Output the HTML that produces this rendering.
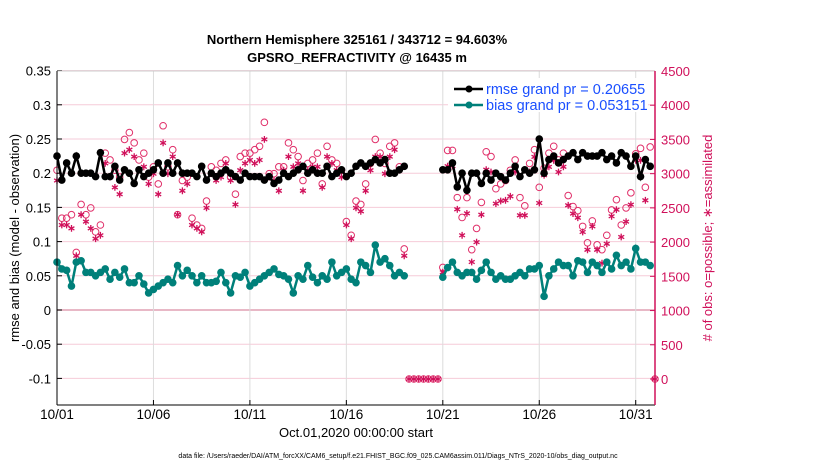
<!DOCTYPE html>
<html><head><meta charset="utf-8"><style>
body{margin:0;background:#fff;font-family:"Liberation Sans",sans-serif}
svg{display:block}
</style></head><body>
<svg id="chart" width="830" height="470" viewBox="0 0 830 470" xmlns="http://www.w3.org/2000/svg" font-family="Liberation Sans, sans-serif">
<text x="357" y="44" text-anchor="middle" font-size="13" font-weight="bold">Northern Hemisphere 325161 / 343712 = 94.603%</text>
<text x="357" y="62" text-anchor="middle" font-size="13" font-weight="bold">GPSRO_REFRACTIVITY @ 16435 m</text>
<g id="grid"></g><g id="marks"></g><g id="axes"></g>
<rect x="448" y="78" width="200" height="34" fill="#fff"/>
<text transform="translate(19,238) rotate(-90)" text-anchor="middle" font-size="13">rmse and bias (model - observation)</text>
<text transform="translate(712,238) rotate(-90)" text-anchor="middle" font-size="13" fill="#d0105a"># of obs: o=possible; ∗=assimilated</text>
<text x="356" y="437" text-anchor="middle" font-size="13">Oct.01,2020 00:00:00 start</text>
<text x="398" y="458" text-anchor="middle" font-size="7">data file: /Users/raeder/DAI/ATM_forcXX/CAM6_setup/f.e21.FHIST_BGC.f09_025.CAM6assim.011/Diags_NTrS_2020-10/obs_diag_output.nc</text>
<g>
<line x1="454" y1="89" x2="483" y2="89" stroke="#000" stroke-width="2.5"/><circle cx="469" cy="89" r="3.5" fill="#000"/>
<text x="486" y="94" font-size="14.5" fill="#1a4fff">rmse grand pr = 0.20655</text>
<line x1="454" y1="105" x2="483" y2="105" stroke="#00807a" stroke-width="2.5"/><circle cx="469" cy="105" r="3.5" fill="#00807a"/>
<text x="486" y="110" font-size="14.5" fill="#1a4fff">bias grand pr = 0.053151</text>
</g>
</svg>
<script>
const leftTicks=[0.35,0.3,0.25,0.2,0.15,0.1,0.05,0,-0.05,-0.1];
const leftTickLabels=["0.35","0.3","0.25","0.2","0.15","0.1","0.05","0","-0.05","-0.1"];
const rightTicks=[4500,4000,3500,3000,2500,2000,1500,1000,500,0];
const xTicks=[0,5,10,15,20,25,30];
const xTickLabels=["10/01","10/06","10/11","10/16","10/21","10/26","10/31"];
const rmse=[0.225,0.19,0.215,0.2,0.225,0.2,0.2,0.2,0.195,0.23,
0.195,0.195,0.21,0.19,0.205,0.2,0.185,0.205,0.195,0.2,
0.205,0.215,0.2,0.215,0.2,0.215,0.2,0.2,0.2,0.195,
0.21,0.19,0.2,0.195,0.2,0.205,0.2,0.195,0.19,0.2,
0.195,0.195,0.195,0.19,0.195,0.185,0.19,0.2,
0.195,0.2,0.205,0.21,0.2,0.205,0.2,0.2,0.21,0.195,
0.2,0.205,0.195,0.2,0.21,0.215,0.21,0.215,0.22,0.215,
0.22,0.2,0.2,0.205,0.21,
null,null,null,null,null,null,null,
0.205,0.205,0.215,0.18,0.2,0.175,0.2,0.2,0.185,0.2,0.19,0.2,0.195,
0.19,0.2,0.21,0.195,0.205,0.2,0.205,0.25,0.2,0.22,0.225,0.215,0.22,
0.225,0.23,0.22,0.23,0.225,0.225,0.225,0.23,0.22,0.225,0.215,0.23,0.225,
0.21,0.225,0.195,0.22,0.21,null];
const bias=[0.07,0.06,0.058,0.035,0.07,0.072,0.055,0.055,0.05,0.055,
0.06,0.045,0.055,0.048,0.06,0.04,0.04,0.05,0.038,0.025,
0.03,0.035,0.04,0.045,0.04,0.065,0.05,0.058,0.05,0.04,
0.05,0.04,0.04,0.042,0.055,0.04,0.025,0.05,0.048,0.055,
0.035,0.04,0.045,0.05,0.055,0.06,0.052,0.05,
0.045,0.025,0.05,0.045,0.065,0.048,0.04,0.05,0.045,0.07,
0.05,0.055,0.06,0.045,0.04,0.07,0.065,0.055,0.095,0.07,
0.075,0.065,0.05,0.055,0.05,
null,null,null,null,null,null,null,
0.048,0.062,0.07,0.055,0.05,0.055,0.055,0.045,0.058,0.07,0.055,0.045,0.05,
0.045,0.045,0.05,0.055,0.05,0.06,0.06,0.065,0.02,0.05,0.06,0.07,0.065,
0.065,0.05,0.072,0.07,0.055,0.07,0.065,0.055,0.07,0.06,0.08,0.065,0.07,
0.06,0.09,0.07,0.07,0.065,null];
const possible=[3050,2350,2350,2400,1850,2550,2400,2500,2150,2250,
3300,3200,3050,2950,3500,3600,3450,3200,3300,2950,
3100,2850,3700,3100,3350,2400,2900,2950,2350,2250,
2200,2600,3100,3050,3150,3200,2950,2700,3250,3300,
3300,3350,3400,3750,3000,3000,3100,3100,
3450,3350,3250,2900,3150,3200,3300,2850,3400,3200,
3150,3050,2300,2100,2600,2550,2850,3150,3500,3300,
3150,3400,3450,3100,1900,
0,0,0,0,0,0,0,
1630,3340,3340,2650,2360,2650,1890,2200,2580,3320,3250,2780,2850,
2900,3050,3200,2650,2530,3150,3350,2800,3080,3300,3400,3200,3300,
2680,2520,2460,2230,1990,2310,1960,1890,2100,2470,2620,2250,2500,
2720,3290,3370,2800,3390,0];
const assimilated=[2900,2250,2250,2200,1800,2400,2300,2200,2050,2100,
3150,2950,2800,2700,3300,3350,3250,3050,3100,2850,
3000,2700,3450,3000,3250,2400,2750,2850,2250,2200,
2150,2500,3000,2900,2950,3150,2900,2550,3050,3150,
3200,3150,3200,3500,2950,2900,2750,3050,
3250,3100,3150,2750,3050,3100,3100,2800,3250,3150,
3050,2950,2250,2050,2500,2450,2750,3050,3250,3250,
3000,3250,3350,3050,1800,
0,0,0,0,0,0,0,
1560,3110,3110,2480,2100,2420,1710,2000,2400,3060,3025,2562,2600,
2611,2670,3025,2391,2391,3025,3245,2572,2977,3099,3196,3025,3100,
2538,2416,2357,2147,1888,2230,1888,1693,1976,2377,2474,2074,2300,
2548,3196,3196,2611,3110,0];
const stepDays=0.25;
const X0=57,X1=655,Y0=71,Y1=405;
const xs=d=>X0+d*(X1-X0)/31;
const yl=v=>310-v*684;
const yr=c=>379-c*(308/4500);
const NS='http://www.w3.org/2000/svg';
function mk(tag,at,parent){const e=document.createElementNS(NS,tag);for(const k in at)e.setAttribute(k,at[k]);parent.appendChild(e);return e;}
const grid=document.getElementById('grid'),marks=document.getElementById('marks'),axes=document.getElementById('axes');
leftTicks.forEach((t,i)=>{
 const g=mk('line',{x1:X0,x2:X1,y1:yl(t),y2:yl(t),stroke:t===0?'#e0a0b4':'#f6cbd8','stroke-width':t===0?1.5:1},grid);
 
 
 const tk=mk('line',{x1:X0,x2:X0+5,y1:yl(t),y2:yl(t),stroke:'#000'},axes);
 
 
 const tx=mk('text',{x:X0-6,y:yl(t)+5,'text-anchor':'end','font-size':13},axes);
 tx.textContent=leftTickLabels[i];
 
 
});
rightTicks.forEach(t=>{
 const tk=mk('line',{x1:X1-5,x2:X1,y1:yr(t),y2:yr(t),stroke:'#d0105a'},axes);
 
 
 const tx=mk('text',{x:X1+6,y:yr(t)+5,'font-size':13,fill:'#d0105a'},axes);
 tx.textContent=String(t);
 
 
});
xTicks.forEach((d,i)=>{
 const g=mk('line',{x1:xs(d),x2:xs(d),y1:Y0,y2:Y1,stroke:'#dcdcdc'},grid);
 
 
 const tk=mk('line',{x1:xs(d),x2:xs(d),y1:Y1-5,y2:Y1,stroke:'#000'},axes);
 
 
 const tx=mk('text',{x:xs(d),y:Y1+14,'text-anchor':'middle','font-size':13.5},axes);
 tx.textContent=xTickLabels[i];
 
 
});
const topBorder=mk('line',{x1:X0,x2:X1,y1:Y0,y2:Y0,stroke:'#ccc'},axes);


const la=mk('line',{x1:X0,x2:X0,y1:Y0,y2:Y1,stroke:'#000'},axes);


const ba=mk('line',{x1:X0,x2:X1,y1:Y1,y2:Y1,stroke:'#000'},axes);


const ra=mk('line',{x1:X1,x2:X1,y1:Y0,y2:Y1,stroke:'#d0105a','stroke-width':1.5},axes);


possible.forEach((c,i)=>{
 const e=mk('circle',{cx:xs(i*stepDays),cy:yr(c),r:3.3,fill:'none',stroke:'#e0306a','stroke-width':1},marks);
 
 
});
function starPath(cx,cy,r){
 let d='';
 for(let k=0;k<3;k++){const a=Math.PI/2+k*Math.PI/3;const dx=r*Math.cos(a),dy=r*Math.sin(a);
  d+='M'+(cx-dx).toFixed(1)+' '+(cy-dy).toFixed(1)+'L'+(cx+dx).toFixed(1)+' '+(cy+dy).toFixed(1);}
 return d;
}
assimilated.forEach((c,i)=>{
 const e=mk('path',{d:starPath(xs(i*stepDays),yr(c),3.4),stroke:'#d0105a','stroke-width':1.3,fill:'none'},marks);
 
 
});
function series(vals,color,name){
 let d='',pen=false;
 vals.forEach((v,i)=>{if(v===null){pen=false;return;}d+=(pen?'L':'M')+xs(i*stepDays).toFixed(1)+' '+yl(v).toFixed(1);pen=true;});
 const p=mk('path',{d:d,fill:'none',stroke:color,'stroke-width':2.5},marks);
 
 
 vals.forEach((v,i)=>{if(v===null)return;
  const c=mk('circle',{cx:xs(i*stepDays),cy:yl(v),r:3.8,fill:color},marks);
  
  
 });
}
series(rmse,'#000','rmse');
series(bias,'#00807a','bias');
</script>
</body></html>
